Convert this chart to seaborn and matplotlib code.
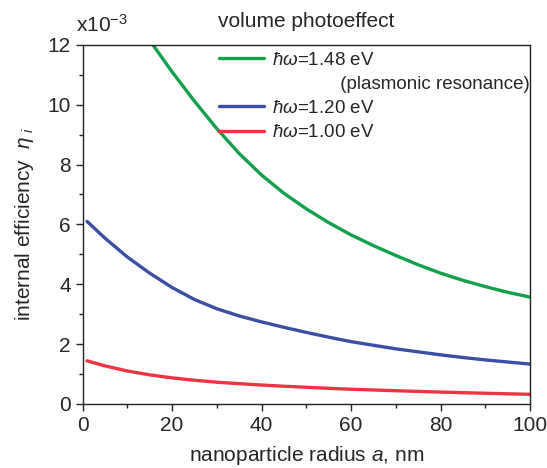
import pandas as pd
import matplotlib.pyplot as plt
import seaborn as sns
from matplotlib.lines import Line2D
from matplotlib.ticker import MultipleLocator

# curve values (efficiency in units of 1e-3)
green_x = [15, 20, 25, 30, 35, 40, 45, 50, 55, 60, 65, 70, 75, 80, 85, 90, 95, 100]
green_y = [12.15, 11.1, 10.12, 9.2, 8.37, 7.65, 7.04, 6.52, 6.06, 5.65, 5.29, 4.96, 4.65, 4.37, 4.13, 3.92, 3.73, 3.57]

radius = [1, 5, 10, 15, 20, 25, 30, 35, 40, 45, 50, 55, 60, 65, 70, 75, 80, 85, 90, 95, 100]
blue_y = [6.1, 5.54, 4.91, 4.37, 3.89, 3.49, 3.18, 2.94, 2.74, 2.56, 2.39, 2.23, 2.08, 1.96, 1.84, 1.74, 1.64, 1.55, 1.47, 1.40, 1.33]
red_y = [1.44, 1.27, 1.10, 0.97, 0.87, 0.79, 0.725, 0.675, 0.63, 0.59, 0.555, 0.52, 0.49, 0.465, 0.44, 0.417, 0.395, 0.375, 0.355, 0.337, 0.32]

labels = [r'$\hbar\omega$=1.48 eV', r'$\hbar\omega$=1.20 eV', r'$\hbar\omega$=1.00 eV']
colors = ['#12a04a', '#3a4ea3', '#ee3442']

df = pd.concat([
    pd.DataFrame({'a': green_x, 'eta': green_y, 'series': labels[0]}),
    pd.DataFrame({'a': radius, 'eta': blue_y, 'series': labels[1]}),
    pd.DataFrame({'a': radius, 'eta': red_y, 'series': labels[2]}),
])

sns.set_style('ticks')
plt.rcParams['font.family'] = ['Liberation Sans', 'DejaVu Sans']
plt.rcParams['mathtext.fontset'] = 'custom'
plt.rcParams['mathtext.rm'] = 'Liberation Sans'
plt.rcParams['mathtext.it'] = 'Liberation Sans:italic'

fig = plt.figure(figsize=(5.47, 4.68), dpi=100)
ax = fig.add_axes([0.151, 0.137, 0.818, 0.767])

sns.lineplot(data=df, x='a', y='eta', hue='series', palette=colors,
             linewidth=2.4, ax=ax, sort=False)

ax.set_xlim(0, 100)
ax.set_ylim(0, 12)
ax.xaxis.set_major_locator(MultipleLocator(20))
ax.xaxis.set_minor_locator(MultipleLocator(10))
ax.yaxis.set_major_locator(MultipleLocator(2))
ax.yaxis.set_minor_locator(MultipleLocator(1))
ax.tick_params(which='both', direction='out', top=False, right=False, labelsize=15, width=1)
ax.tick_params(which='major', length=5)
ax.tick_params(which='minor', length=3)
for s in ax.spines.values():
    s.set_linewidth(1)
    s.set_color('#222222')

ax.set_xlabel(r'nanoparticle radius $a$, nm', fontsize=15, labelpad=7)
ax.set_ylabel(r'internal efficiency  $\eta_{\ i}$', fontsize=15, labelpad=8)
ax.set_title('volume photoeffect', fontsize=15, pad=13)
ax.text(-0.014, 1.025, r'x10$^{-3}$', transform=ax.transAxes, fontsize=15, ha='left', va='bottom')

# legend with an extra text-only row for the resonance note
handles, labs = ax.get_legend_handles_labels()
handles.insert(1, Line2D([], [], linestyle='none'))
labs.insert(1, '             (plasmonic resonance)')
ax.legend(handles, labs, loc='upper right', frameon=False, fontsize=13.5,
          handlelength=2.4, handletextpad=0.4, labelspacing=0.38,
          borderaxespad=0.1, bbox_to_anchor=(1.02, 1.008))

plt.savefig('out.png', dpi=100)
plt.close()
